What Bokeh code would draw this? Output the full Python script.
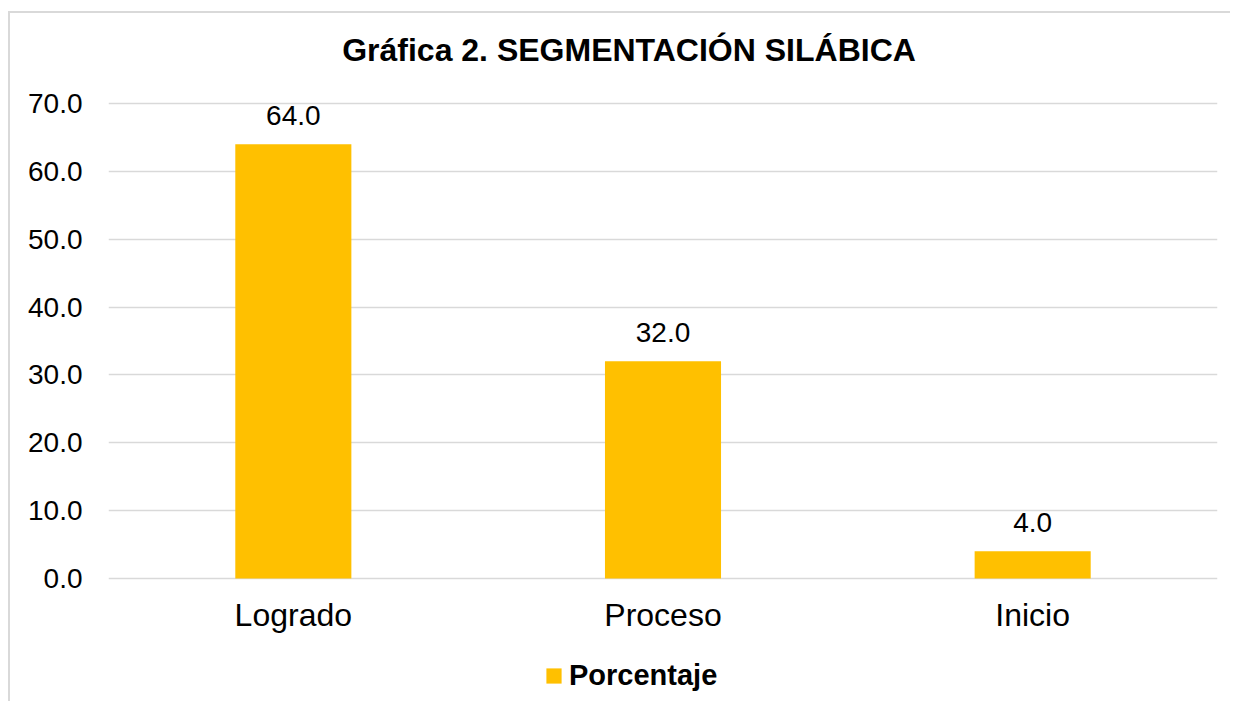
from bokeh.plotting import figure
from bokeh.models import ColumnDataSource, Legend, LegendItem, FixedTicker, LabelSet, NumeralTickFormatter
from bokeh.core.properties import value
from bokeh.embed import file_html
from bokeh.resources import INLINE

categories = ["Logrado", "Proceso", "Inicio"]
values = [64.0, 32.0, 4.0]
labels = ["64.0", "32.0", "4.0"]
y_ticks = [0, 10, 20, 30, 40, 50, 60, 70]
series_name = "Porcentaje"
title_text = "Gráfica 2. SEGMENTACIÓN SILÁBICA"

FONT = "Liberation Sans"

src = ColumnDataSource(dict(cat=categories, val=values, lab=labels))
title_src = ColumnDataSource(dict(cat=[categories[1]], yy=[y_ticks[-1]], t=[title_text]))

p = figure(x_range=categories, y_range=(-18.42, 83.26), width=1222, height=690,
           output_backend="svg", toolbar_location=None,
           min_border_left=98, min_border_right=15,
           min_border_top=0, min_border_bottom=0)
p.styles = {"border-top": "2px solid #d9d9d9", "border-left": "2px solid #d9d9d9",
            "margin-left": "8px", "margin-top": "11px"}

p.outline_line_color = None
p.background_fill_color = "white"
p.border_fill_color = "white"

r = p.vbar(x="cat", top="val", width=0.314, source=src, fill_color="#FFC000", line_color=None)

title = LabelSet(x="cat", y="yy", text="t", source=title_src, x_offset=-34, y_offset=53,
                 text_align="center", text_baseline="middle", text_font=value(FONT),
                 text_font_size=value("32px"), text_font_style=value("bold"),
                 text_color="#000000")
p.add_layout(title)

labs = LabelSet(x="cat", y="val", text="lab", source=src, text_align="center",
                text_baseline="bottom", y_offset=19, text_font=value(FONT),
                text_font_size=value("28px"), text_color="#000000")
p.add_layout(labs)

cat_labs = LabelSet(x="cat", y=0, text="cat", source=src, text_align="center",
                    text_baseline="middle", y_offset=-36, text_font=value(FONT),
                    text_font_size=value("32px"), text_color="#000000")
p.add_layout(cat_labs)

p.xaxis.visible = False

p.yaxis.ticker = FixedTicker(ticks=y_ticks)
p.yaxis.formatter = NumeralTickFormatter(format="0.0")
p.yaxis.axis_line_color = None
p.yaxis.major_tick_line_color = None
p.yaxis.minor_tick_line_color = None
p.yaxis.major_label_text_font = FONT
p.yaxis.major_label_text_font_size = "28px"
p.yaxis.major_label_text_color = "#000000"
p.yaxis.major_label_standoff = 20

p.xgrid.grid_line_color = None
p.ygrid.grid_line_color = "#d9d9d9"
p.ygrid.grid_line_width = 1.5

legend = Legend(items=[LegendItem(label=series_name, renderers=[r])],
                orientation="horizontal", location=(436, 11),
                label_text_font=FONT, label_text_font_size="29px",
                label_text_font_style="bold", label_text_color="#000000",
                glyph_width=19, glyph_height=19, label_standoff=6,
                border_line_color=None, background_fill_alpha=0, margin=0, padding=6)
p.add_layout(legend, "center")

open("out.html", "w").write(file_html(p, INLINE))
